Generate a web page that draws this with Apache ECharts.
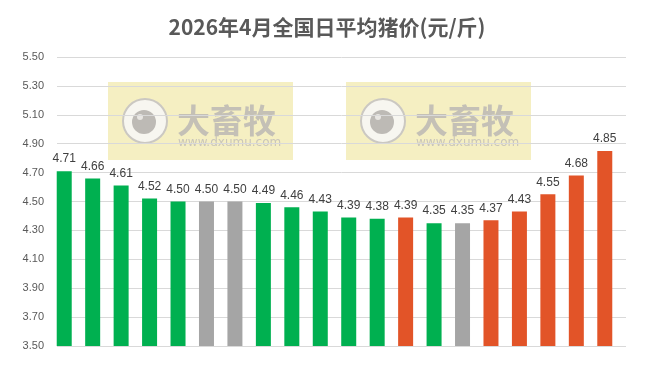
<!DOCTYPE html>
<html>
<head>
<meta charset="utf-8">
<script src="https://cdn.jsdelivr.net/npm/echarts@6/dist/echarts.min.js"></script>
<style>html,body{margin:0;padding:0;background:#fff}#c{width:654px;height:368px}</style>
</head>
<body>
<div id="c"></div>
<script>
var days = ['1','2','3','4','5','6','7','8','9','10','11','12','13','14','15','16','17','18','19','20'];
var prices = [4.71,4.66,4.61,4.52,4.50,4.50,4.50,4.49,4.46,4.43,4.39,4.38,4.39,4.35,4.35,4.37,4.43,4.55,4.68,4.85];
var trend = ['down','down','down','down','down','flat','flat','down','down','down','down','down','up','down','flat','up','up','up','up','up'];
var yMin = 3.5, yMax = 5.5, yStep = 0.2;

var colorMap = {down:'#00B050', flat:'#A5A5A5', up:'#E25428'};
var chart = echarts.init(document.getElementById('c'));

function watermark(x0){
  return [
    {type:'rect', shape:{x:x0, y:82, width:185, height:78}, style:{fill:'#f5efc2'}, z:0},
    {type:'circle', shape:{cx:x0+37, cy:121, r:22}, style:{fill:'#f7f6f0', stroke:'#cbc8c2', lineWidth:2}, z:0},
    {type:'circle', shape:{cx:x0+36, cy:122, r:12}, style:{fill:'#bdbab5'}, z:0},
    {type:'circle', shape:{cx:x0+32, cy:117, r:3}, style:{fill:'#e8e6e2'}, z:0},
    {type:'text', x:x0+69, y:104, style:{text:'大畜牧', font:'bold 33px "Noto Sans CJK SC"', fill:'#c4c0b6'}, z:0},
    {type:'text', x:x0+70, y:137, style:{text:'www.dxumu.com', font:'12px "DejaVu Sans"', fill:'#c9c5ba'}, z:0}
  ];
}

var option = {
  animation:false,
  title:{text:'2026年4月全国日平均猪价(元/斤)', left:'center', top:12,
    textStyle:{fontFamily:'"Noto Sans CJK SC"', fontSize:21, fontWeight:'bold', color:'#595959'}},
  graphic: watermark(108).concat(watermark(346)),
  grid:[
    {left:57, right:28, top:57, bottom:22},
    {left:50, right:35, top:57, bottom:22}
  ],
  xAxis:[
    {gridIndex:0, type:'category', data:days, show:false},
    {gridIndex:1, type:'category', data:days, axisLine:{show:false}, axisTick:{show:false}, axisLabel:{show:false}}
  ],
  yAxis:[
    {gridIndex:0, type:'value', min:yMin, max:yMax, interval:yStep, z:2,
      axisLine:{show:false}, axisTick:{show:false},
      axisLabel:{margin:13, color:'#595959', fontSize:11, fontFamily:'"Liberation Sans"', formatter:function(v){return v.toFixed(2);}},
      splitLine:{lineStyle:{color:'#d9d9d9', width:1}}},
    {gridIndex:1, type:'value', min:yMin, max:yMax, interval:yStep, show:false}
  ],
  series:[{
    type:'bar', xAxisIndex:1, yAxisIndex:1, barWidth:15, z:5,
    data: prices.map(function(v,i){return {value:v, itemStyle:{color:colorMap[trend[i]]}};}),
    label:{show:true, position:'top', distance:6, color:'#404040', fontSize:12, fontFamily:'"Liberation Sans"',
      formatter:function(p){return p.value.toFixed(2);}}
  }]
};
chart.setOption(option);
</script>
</body>
</html>
